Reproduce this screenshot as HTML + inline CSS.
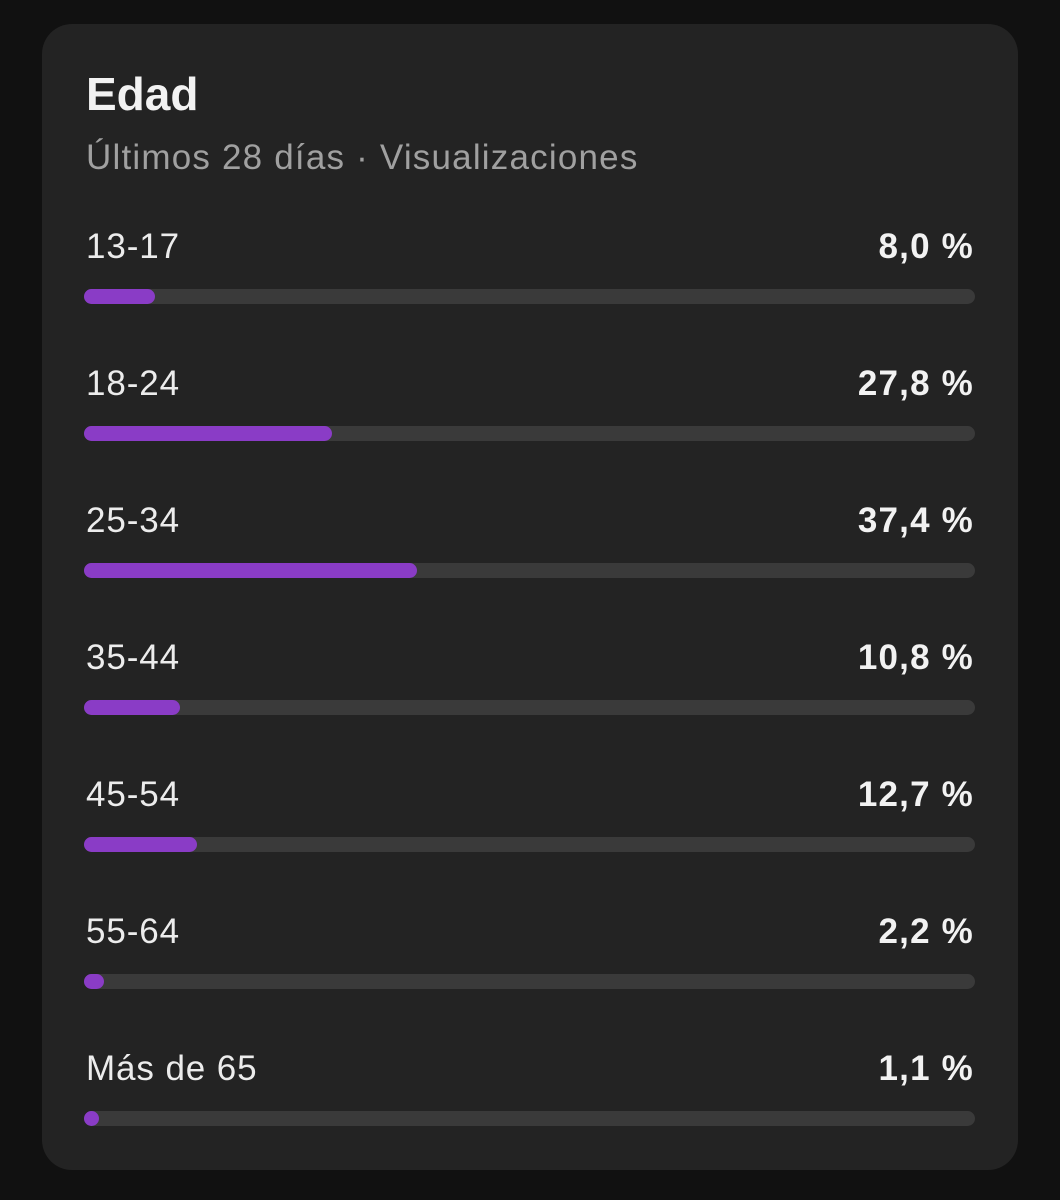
<!DOCTYPE html>
<html><head><meta charset="utf-8"><style>
html,body{margin:0;padding:0;background:#111111;width:1060px;height:1200px;overflow:hidden;font-family:"Liberation Sans",sans-serif;}
.card{position:absolute;left:42px;top:24px;width:976px;height:1146px;background:#232323;border-radius:30px;}
.title{position:absolute;left:86px;top:71px;font-size:46px;font-weight:bold;color:#f2f2f2;line-height:1;}
.sub{position:absolute;left:86px;top:140px;font-size:35px;letter-spacing:1.2px;color:#a0a0a0;line-height:1;}
.lab{position:absolute;left:86px;font-size:35px;letter-spacing:0.9px;color:#ececec;line-height:1;}
.val{position:absolute;right:86px;font-size:35px;letter-spacing:1.2px;font-weight:bold;color:#f2f2f2;line-height:1;}
.track{position:absolute;left:84px;width:891px;height:15px;border-radius:8px;background:#3a3a3a;}
.fill{position:absolute;left:0;top:0;height:15px;border-radius:8px;background:#8a3cc6;}
</style></head><body>
<div class="card"></div>
<div class="title">Edad</div>
<div class="sub">Últimos 28 días · Visualizaciones</div>
<div id="rows"></div>
<script>
const categories=["13-17","18-24","25-34","35-44","45-54","55-64","Más de 65"];
const values=[8.0,27.8,37.4,10.8,12.7,2.2,1.1];
const valueLabels=["8,0 %","27,8 %","37,4 %","10,8 %","12,7 %","2,2 %","1,1 %"];
const maxVal=100;
const rows=document.getElementById('rows');
const trackW=891;
function x(v){return Math.max(15,v/maxVal*trackW);}
categories.forEach((c,i)=>{
  const y0=229+i*137;
  const l=document.createElement('div');l.className='lab';l.style.top=y0+'px';l.textContent=c;
  
  
  const v=document.createElement('div');v.className='val';v.style.top=y0+'px';v.textContent=valueLabels[i];
  
  
  const t=document.createElement('div');t.className='track';t.style.top=(y0+60)+'px';
  
  
  const f=document.createElement('div');f.className='fill';f.style.width=x(values[i])+'px';
  
  
  t.appendChild(f);
  rows.appendChild(l);rows.appendChild(v);rows.appendChild(t);
});
</script>
</body></html>
